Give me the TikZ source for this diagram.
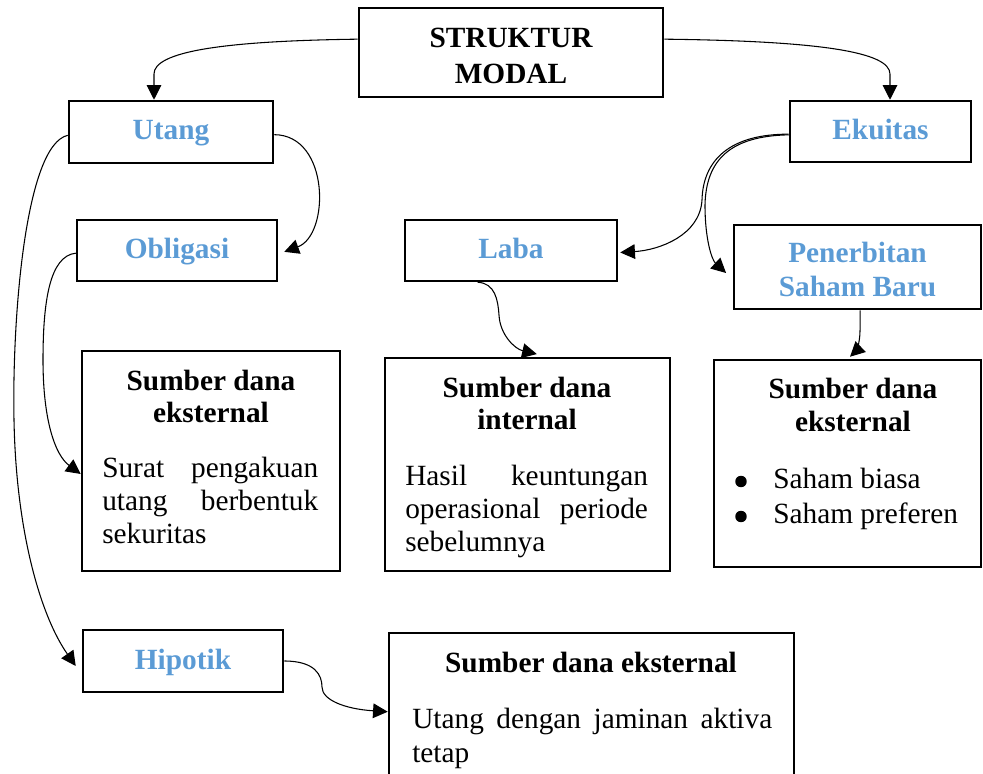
\documentclass[tikz,border=0pt]{standalone}
\usepackage{fontspec}
\setmainfont{Liberation Serif}
\usetikzlibrary{arrows.meta}
\definecolor{lblue}{RGB}{91,155,213}
\newcommand\centerlines[2]{\vtop{\baselineskip=#1\halign{\hfil##\hfil\cr#2\crcr}}}
\begin{document}
\begin{tikzpicture}[x=0.75pt,y=-0.75pt,
  box/.style={draw,line width=1.9pt,inner sep=0pt},
  lbl/.style={box,font=\fontsize{22pt}{26pt}\selectfont\bfseries,text=lblue,text height=16pt,text depth=4pt},
  title/.style={box,font=\fontsize{22pt}{27pt}\selectfont\bfseries,align=center},
  conn/.style={line width=0.8pt,-{Triangle[length=11pt,width=11pt]}},
  txt/.style={inner sep=0pt,font=\fontsize{22pt}{25pt}\selectfont},
  head/.style={inner sep=0pt,font=\fontsize{22pt}{25pt}\selectfont\bfseries,anchor=base}]
\useasboundingbox (0,0) rectangle (983,774);

% boxes
\node[title,minimum width=228pt,minimum height=66.75pt] (struktur) at (511,52.5) {\rule{0pt}{19pt}STRUKTUR\\MODAL};
\node[lbl,minimum width=153pt,minimum height=46.5pt] (utang) at (171,132) {Utang};
\node[lbl,minimum width=150pt,minimum height=45.75pt] (obligasi) at (177,250.5) {Obligasi};
\node[lbl,minimum width=159pt,minimum height=45.75pt] (laba) at (511,250.5) {Laba};
\node[lbl,minimum width=135.75pt,minimum height=45.75pt] (ekuitas) at (880.5,131.5) {Ekuitas};
\node[title,text=lblue,font=\fontsize{22pt}{25.5pt}\selectfont\bfseries,minimum width=185.25pt,minimum height=63pt] (penerbitan) at (857.5,267) {\rule{0pt}{19pt}Penerbitan\\Saham Baru};
\node[box,minimum width=193.5pt,minimum height=165pt] (box1) at (211,461) {};
\node[box,minimum width=213.75pt,minimum height=159.75pt] (box2) at (527.5,464.5) {};
\node[box,minimum width=200.25pt,minimum height=155.25pt] (box3) at (847.5,463.5) {};
\node[lbl,minimum width=150pt,minimum height=46.5pt] (hipotik) at (183,661) {Hipotik};
\node[box,minimum width=303.75pt,minimum height=125.25pt] (box4) at (591.5,716.5) {};

% box texts
\node[head] (h1) at (211,390) {\centerlines{24pt}{Sumber dana\cr eksternal}};
\node[txt,anchor=base west] (t1) at (102,477) {\vtop{\hsize=162pt\baselineskip=25pt
  \hbox to\hsize{Surat\hfill pengakuan}\hbox to\hsize{utang\hfill berbentuk}\hbox{sekuritas}}};
\node[head] (h2) at (527,397) {\centerlines{24.5pt}{Sumber dana\cr internal}};
\node[txt,anchor=base west] (t2) at (405,485) {\vtop{\hsize=182pt\baselineskip=25pt
  \hbox to\hsize{Hasil\hfill keuntungan}\hbox to\hsize{operasional\hfill periode}\hbox{sebelumnya}}};
\node[head] (h3) at (853,398) {\centerlines{25pt}{Sumber dana\cr eksternal}};
\fill (741,481.5) circle (4.3pt);
\fill (741,516.5) circle (4.3pt);
\node[txt,anchor=base west] (t3) at (773,488) {\vtop{\baselineskip=26.25pt
  \hbox{Saham biasa}\hbox{Saham preferen}}};
\node[head] (h4) at (591,672) {Sumber dana eksternal};
\node[txt,anchor=base west] (t4) at (412,728) {\vtop{\hsize=270pt\baselineskip=26pt
  \hbox to\hsize{Utang\hfill dengan\hfill jaminan\hfill aktiva}\hbox{tetap}}};

% connectors
\draw[conn] ([yshift=10pt]struktur.west) .. controls (220,41) and (154,52) .. (154,74) -- (154,0 |- utang.north);
\draw[conn] ([yshift=10pt]struktur.east) .. controls (820,41) and (890,52) .. (890,74) -- (890,0 |- ekuitas.north);
\draw[conn] ([yshift=-2pt]utang.east) .. controls (330,135) and (330,235) .. ([xshift=4.5pt,yshift=-1pt]obligasi.east);
\draw[conn] ([yshift=-2.5pt]utang.west) .. controls (25,145) and (12,320) .. (14,420) .. controls (16,530) and (40,615) .. ([xshift=-4.5pt,yshift=-3.75pt]hipotik.west);
\draw[conn] ([yshift=-2pt]obligasi.west) .. controls (50,256) and (43,300) .. (43,360) .. controls (43,420) and (55,455) .. ([yshift=-9.75pt]box1.west);
\draw[conn] ([yshift=-2pt]ekuitas.west) .. controls (730,134) and (703,160) .. (702,200) .. controls (700,235) and (660,250) .. ([xshift=1.5pt,yshift=-1.5pt]laba.east);
\draw[conn] ([yshift=-2.5pt]ekuitas.west) .. controls (730,136) and (706,160) .. (705,205) .. controls (705,240) and (712,260) .. ([xshift=-5pt,yshift=-4.5pt]penerbitan.west);
\draw[conn] ([xshift=-25pt]laba.south) .. controls (495,283) and (498,300) .. (499,315) .. controls (500,335) and (515,349) .. ([xshift=7pt,yshift=2pt]box2.north);
\draw[conn] ([xshift=1.9pt]penerbitan.south) -- ++(0,20) .. controls (860,345) and (855,352) .. ([xshift=1.9pt,yshift=1.5pt]box3.north);
\draw[conn] (hipotik.east) .. controls (315,661) and (322,675) .. (322,687) .. controls (322,700) and (345,709) .. ([yshift=-60pt]box4.north west);
\end{tikzpicture}
\end{document}
